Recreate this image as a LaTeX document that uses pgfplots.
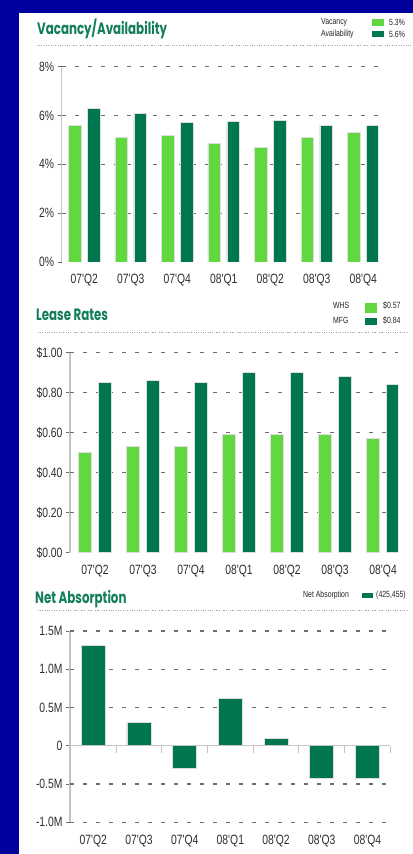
\documentclass[border=0pt]{standalone}
\usepackage{pgfplots}
\pgfplotsset{compat=1.18}
\usepackage{fontspec}
\setmainfont{Liberation Sans}
\newfontfamily\narrow[FakeStretch=0.77]{Liberation Sans}
\newfontfamily\titlefont[FakeStretch=0.72]{Poppins}

\definecolor{bgblue}{HTML}{00009C}
\definecolor{lgreen}{HTML}{62D840}
\definecolor{dgreen}{HTML}{00774F}
\definecolor{ttlc}{HTML}{137E5A}
\definecolor{gridc}{HTML}{6E6E6E}
\definecolor{axc}{HTML}{C4C4C4}

\pgfplotsset{
  panel/.style={
    scale only axis, anchor=south west,
    axis y line*=left, axis x line*=bottom,
    x axis line style={draw=none},
    y axis line style={axc, line width=1.3bp},
    xtick={0,...,6},
    xticklabels={07'Q2,07'Q3,07'Q4,08'Q1,08'Q2,08'Q3,08'Q4},
    xtick style={draw=none},
    ytick style={draw=gridc, line width=0.8bp},
    tick align=outside, major tick length=4bp,
    tick label style={font=\narrow\fontsize{13.5}{14}\selectfont, text=black!82},
    xticklabel style={yshift=-5bp},
    extra y tick labels={},
    extra y tick style={grid=major, major tick length=0pt},
    major grid style={gridc, line width=1.2bp, dash pattern=on 4bp off 9bp},
  },
  bars/.style={fill=#1, draw=black!13, line width=0.9bp},
}
\tikzset{
  titlenode/.style={anchor=base west, text=ttlc, inner sep=0pt,
    font=\titlefont\bfseries\fontsize{16.5}{18}\selectfont},
  sepline/.style={black!35, line width=0.9bp,
    dash pattern=on 1bp off 0.8bp on 1bp off 0.8bp on 1bp off 2.5bp},
  legtext/.style={anchor=west, inner sep=0pt, text=black!85,
    font=\narrow\fontsize{9}{9}\selectfont},
}

\begin{document}
\begin{tikzpicture}
\fill[bgblue] (0,0) rectangle (413bp,854bp);
\fill[white] (19bp,0) rectangle (413bp,841bp);

% ---- Vacancy/Availability
\node[titlenode] at (37bp,819bp) {Vacancy/Availability};
\draw[sepline] (37bp,809bp) -- (410bp,809bp);
\fill[lgreen] (372bp,828.3bp) rectangle (383.5bp,835bp);
\fill[dgreen] (372bp,816.7bp) rectangle (383.5bp,823.3bp);
\node[legtext] at (321bp,831.7bp) {Vacancy};
\node[legtext] at (321bp,820bp) {Availability};
\node[legtext] at (389bp,831.7bp) {5.3\%};
\node[legtext] at (389bp,820bp) {5.6\%};

\begin{axis}[panel, at={(61.7bp,592bp)}, width=316.3bp, height=195.3bp,
  xmin=-0.484, xmax=6.318, ymin=0, ymax=8,
  ytick={0,2,4,6,8}, yticklabels={0\%,2\%,4\%,6\%,8\%},
  extra y ticks={2,4,6,8},
  ybar=6.5bp, bar width=12.5bp]
\addplot[bars=lgreen] coordinates {
  (0,5.6) (1,5.1) (2,5.2) (3,4.85) (4,4.7) (5,5.1) (6,5.3)};
\addplot[bars=dgreen] coordinates {
  (0,6.3) (1,6.1) (2,5.7) (3,5.75) (4,5.8) (5,5.6) (6,5.6)};
\end{axis}

% ---- Lease Rates
\node[titlenode] at (36bp,533.3bp) {Lease Rates};
\draw[sepline] (38bp,521.5bp) -- (408bp,521.5bp);
\fill[lgreen] (365bp,540.7bp) rectangle (376.7bp,550.7bp);
\fill[dgreen] (365bp,529bp) rectangle (376.7bp,536.3bp);
\node[legtext] at (333bp,548.5bp) {WHS};
\node[legtext] at (333bp,534bp) {MFG};
\node[legtext] at (383bp,548.5bp) {\$0.57};
\node[legtext] at (383bp,534bp) {\$0.84};

\begin{axis}[panel, at={(70bp,301.3bp)}, width=328bp, height=200bp,
  xmin=-0.52, xmax=6.31, ymin=0, ymax=1,
  ytick={0,0.2,0.4,0.6,0.8,1},
  yticklabels={\$0.00,\$0.20,\$0.40,\$0.60,\$0.80,\$1.00},
  extra y ticks={0.2,0.4,0.6,0.8,1},
  ybar=6.5bp, bar width=13.5bp]
\addplot[bars=lgreen] coordinates {
  (0,0.50) (1,0.53) (2,0.53) (3,0.59) (4,0.59) (5,0.59) (6,0.57)};
\addplot[bars=dgreen] coordinates {
  (0,0.85) (1,0.86) (2,0.85) (3,0.90) (4,0.90) (5,0.88) (6,0.84)};
\end{axis}

% ---- Net Absorption
\node[titlenode] at (35bp,250.7bp) {Net Absorption};
\draw[sepline] (38bp,244bp) -- (408bp,244bp);
\fill[dgreen] (361.7bp,255.7bp) rectangle (373.3bp,261.3bp);
\node[legtext] at (303bp,258.5bp) {Net Absorption};
\node[legtext] at (376bp,258.5bp) {(425,455)};

\begin{axis}[panel, at={(70bp,31.7bp)}, width=323bp, height=191.3bp,
  xmin=-0.51, xmax=6.56, ymin=-1, ymax=1.5,
  ytick={-1,-0.5,0,0.5,1,1.5},
  yticklabels={-1.0M,-0.5M,0,0.5M,1.0M,1.5M},
  extra y ticks={-1,-0.5,0.5,1,1.5},
  ybar, bar width=24bp]
\addplot[bars=dgreen] coordinates {
  (0,1.31) (1,0.30) (2,-0.29) (3,0.62) (4,0.09) (5,-0.43) (6,-0.425)};
\draw[axc, line width=1.3bp] (axis cs:-0.51,0) -- (axis cs:6.5,0);
\draw[axc, line width=1.1bp]
  (axis cs:0.5,0) -- ++(0pt,-7bp) (axis cs:1.5,0) -- ++(0pt,-7bp)
  (axis cs:2.5,0) -- ++(0pt,-7bp) (axis cs:3.5,0) -- ++(0pt,-7bp)
  (axis cs:4.5,0) -- ++(0pt,-7bp) (axis cs:5.5,0) -- ++(0pt,-7bp)
  (axis cs:6.5,0) -- ++(0pt,-7bp);
\end{axis}

\pgfresetboundingbox
\path (0,0) rectangle (413bp,854bp);
\end{tikzpicture}
\end{document}
